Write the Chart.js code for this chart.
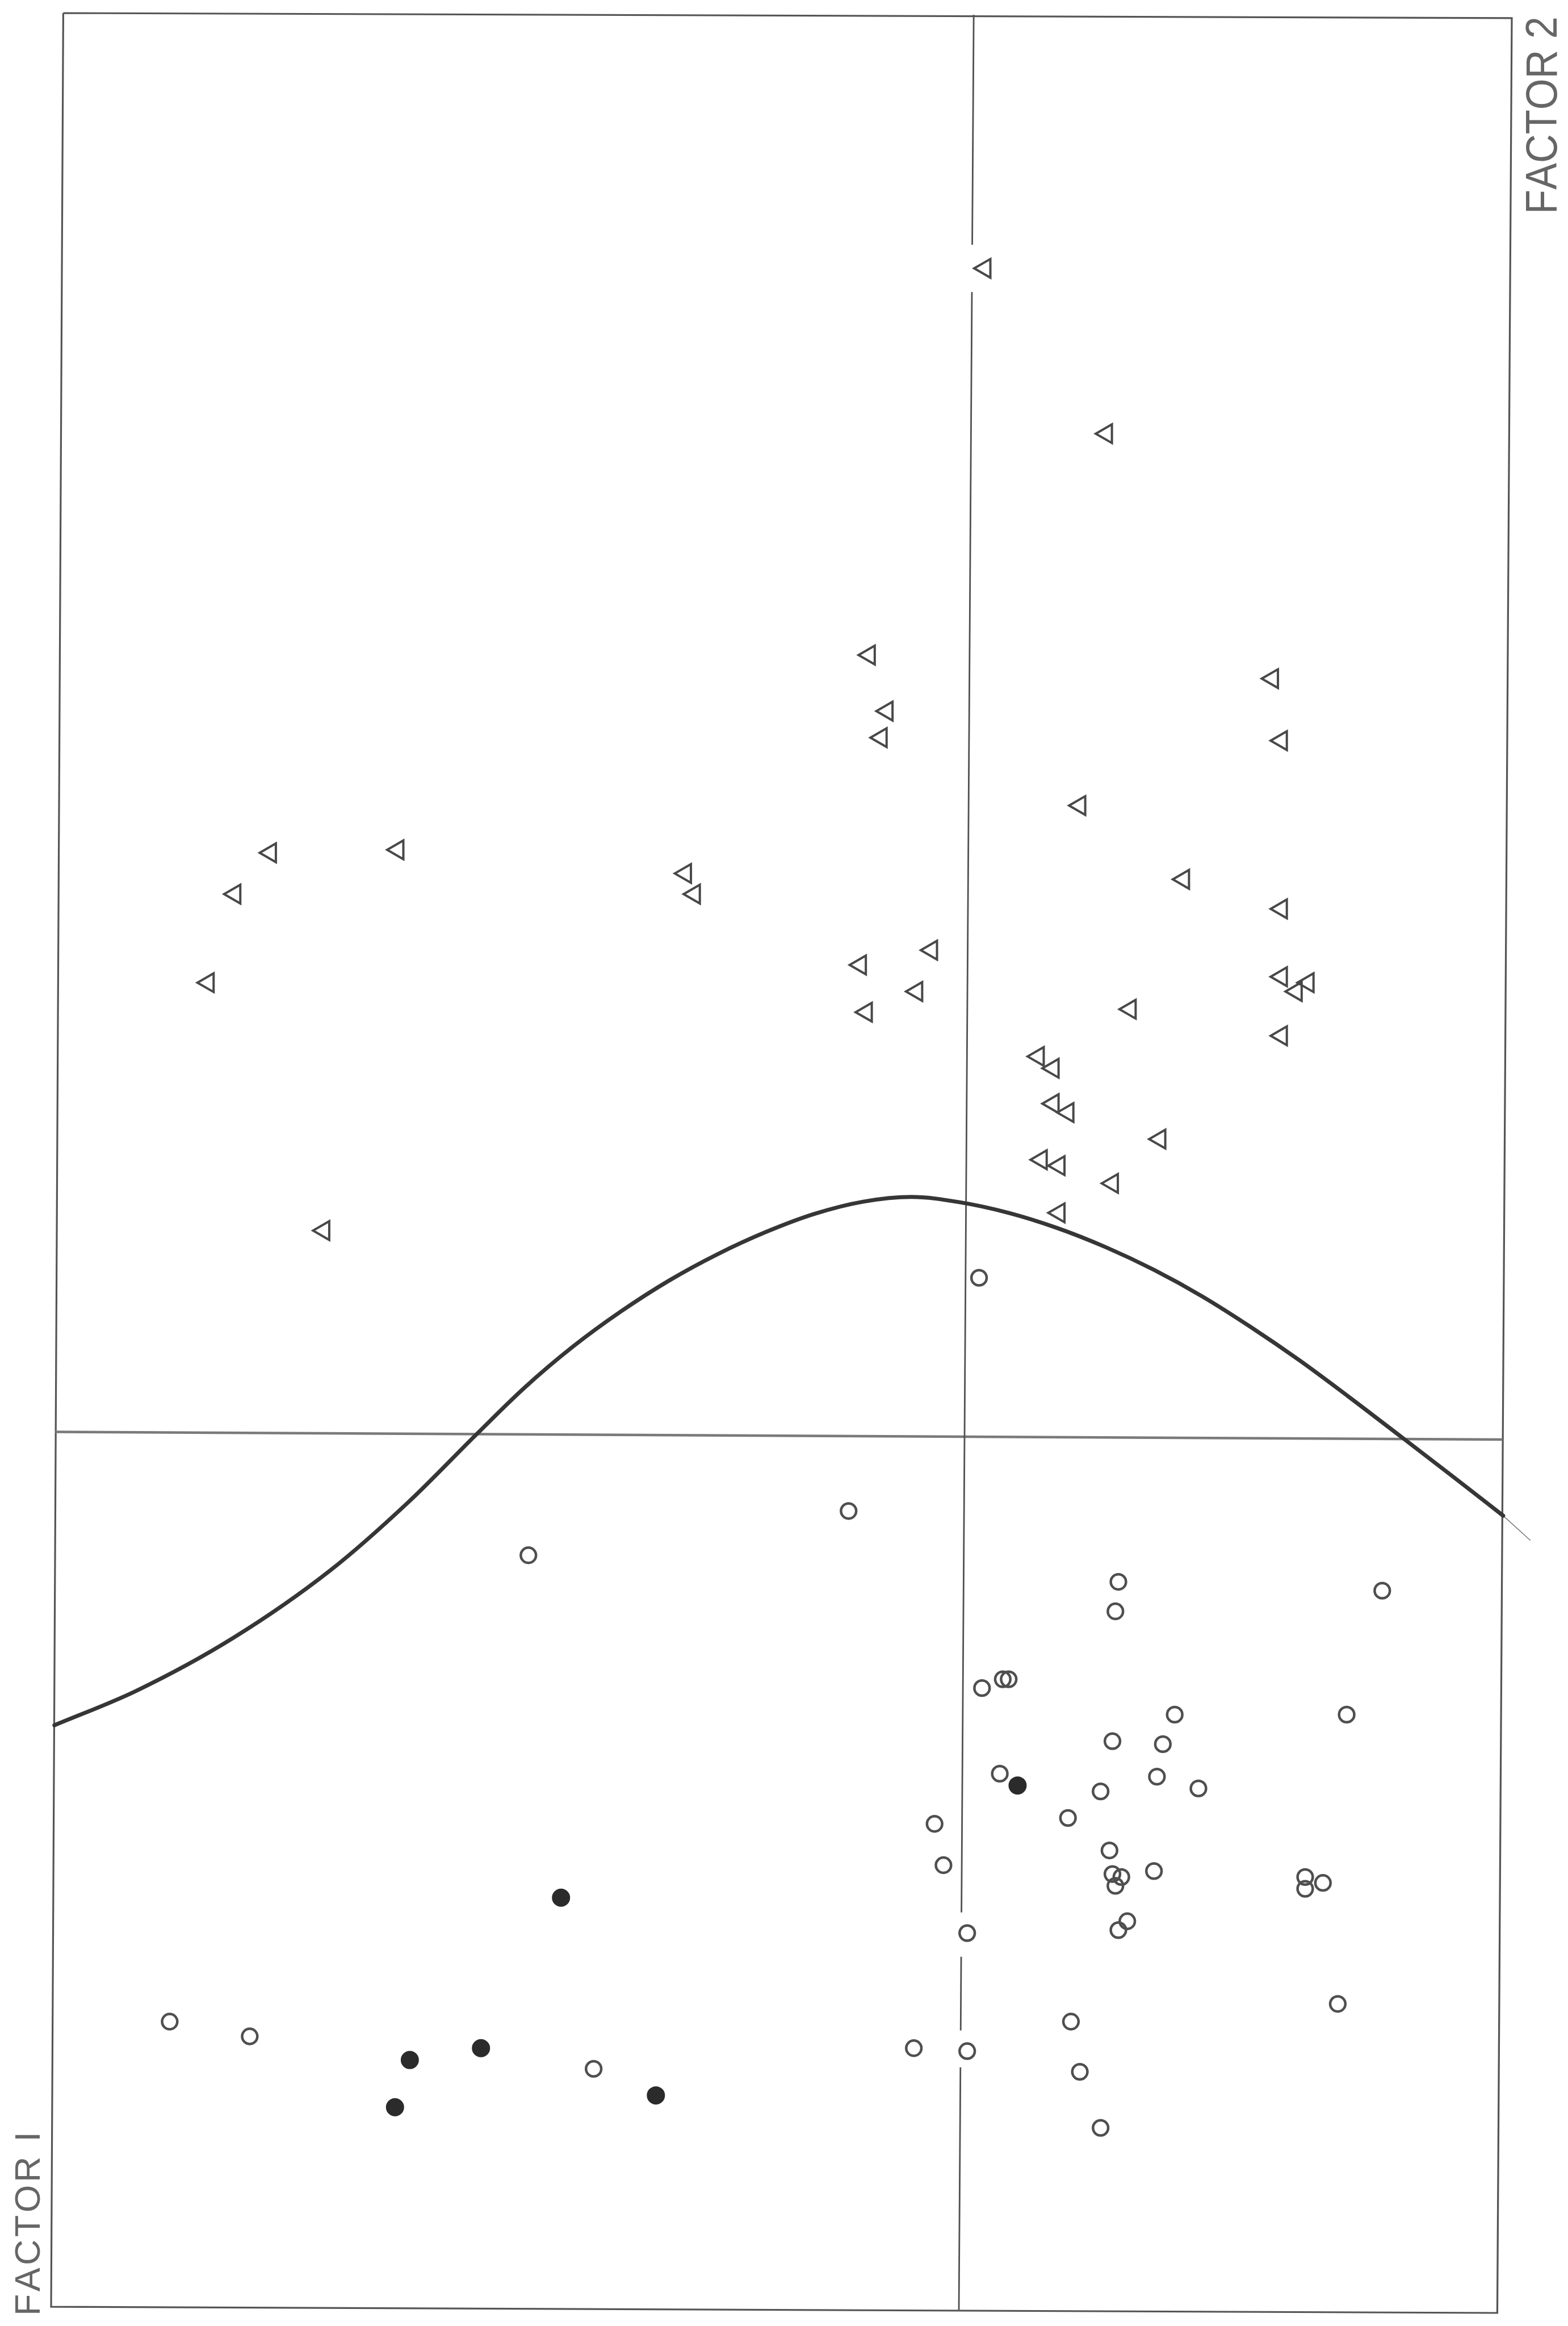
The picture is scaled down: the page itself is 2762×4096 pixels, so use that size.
<!DOCTYPE html>
<html>
<head>
<meta charset="utf-8">
<script src="https://cdn.jsdelivr.net/npm/chart.js@4.4.1/dist/chart.umd.min.js"></script>
<style>
  html, body { margin: 0; padding: 0; background: #ffffff; }
  #chart { display: block; }
</style>
</head>
<body>
<canvas id="chart" width="2762" height="4096"></canvas>
<script>
"use strict";

// scores, page orientation (x across, y up)
var triangles = [
    [0.06, 3.95], [0.47, 3.39], [-0.33, 2.64], [1.03, 2.56], [-0.27, 2.45],
    [-0.29, 2.36], [1.06, 2.35], [0.38, 2.13], [-2.35, 1.97], [-1.92, 1.98],
    [-2.47, 1.83], [-0.95, 1.90], [-0.92, 1.83], [0.73, 1.88], [1.06, 1.78],
    [-0.12, 1.64], [-0.36, 1.59], [-2.56, 1.53], [-0.17, 1.50], [-0.34, 1.43],
    [1.06, 1.55], [1.15, 1.53], [1.11, 1.50], [0.55, 1.44], [1.06, 1.35],
    [0.24, 1.28], [0.29, 1.24], [0.29, 1.12], [0.34, 1.09], [0.65, 1.00],
    [0.25, 0.93], [0.31, 0.91], [0.49, 0.85], [0.31, 0.75], [-2.17, 0.69]
];

var openCircles = [
    [0.04, 0.53], [-0.40, -0.26], [-1.48, -0.41], [0.51, -0.50], [0.50, -0.60],
    [1.40, -0.53], [0.05, -0.86], [0.12, -0.83], [0.14, -0.83], [0.70, -0.95],
    [1.28, -0.95], [0.49, -1.04], [0.66, -1.05], [0.11, -1.15], [0.64, -1.16],
    [0.78, -1.20], [0.45, -1.21], [0.34, -1.30], [-0.11, -1.32], [0.48, -1.41],
    [-0.08, -1.46], [0.49, -1.49], [0.52, -1.50], [0.63, -1.48], [0.50, -1.53],
    [1.14, -1.50], [1.14, -1.54], [1.20, -1.52], [0.54, -1.65], [0.51, -1.68],
    [0.00, -1.69], [1.25, -1.93], [0.35, -1.99], [-2.69, -1.99], [-2.42, -2.04],
    [-0.18, -2.08], [0.00, -2.09], [-1.26, -2.15], [0.38, -2.16], [0.45, -2.35]
];

var filledDots = [
    [0.17, -1.19], [-1.37, -1.57], [-1.64, -2.08], [-1.88, -2.12], [-1.93, -2.28], [-1.05, -2.24]
];

// separating curve, traced along its length
var boundary = [
    [-3.079, -0.986], [-2.802, -0.869], [-2.474, -0.689], [-2.148, -0.461], [-1.886, -0.231],
    [-1.657, -0.002], [-1.494, 0.157], [-1.331, 0.296], [-1.168, 0.416], [-1.005, 0.521],
    [-0.840, 0.611], [-0.677, 0.686], [-0.514, 0.747], [-0.351, 0.788], [-0.188, 0.804],
    [-0.025, 0.786], [0.140, 0.750], [0.303, 0.699], [0.467, 0.634], [0.630, 0.557],
    [0.793, 0.467], [0.957, 0.363], [1.120, 0.251], [1.283, 0.130], [1.463, -0.008],
    [1.638, -0.143], [1.808, -0.276]
];
var boundaryTail = [[1.808, -0.276], [1.900, -0.360]];

// the scan is slightly skewed, so the frame and axes are read as they lie
var frameCorners = [[-3.049, 4.815], [1.837, 4.798], [1.788, -2.977], [-3.090, -2.956], [-3.049, 4.815]];
var verticalAxis = [[0.022, 4.809], [-0.028, -2.967]];
var horizontalAxis = [[-3.075, 0.008], [1.806, -0.018]];
var verticalGaps = [[4.03, 3.87], [-1.62, -1.77], [-2.02, -2.145]];

var axisLabels = ["FACTOR 2", "FACTOR I"];

var toPoints = function(list) {
    return list.map(function(p) { return {x: p[0], y: p[1]}; });
};

// vertical axis line, broken where the plotter left room for a marker
var axisWithGaps = function(ends, gaps) {
    var top = ends[0], bottom = ends[1];
    var xAt = function(y) {
        return top[0] + (bottom[0] - top[0]) * (top[1] - y) / (top[1] - bottom[1]);
    };
    var out = [{x: top[0], y: top[1]}];
    gaps.forEach(function(g) {
        out.push({x: xAt(g[0]), y: g[0]});
        out.push({x: xAt(g[0]), y: null});
        out.push({x: xAt(g[1]), y: g[1]});
    });
    out.push({x: bottom[0], y: bottom[1]});
    return out;
};

var drawLabel = function(ctx, text, baseX, startY, capHeight, length) {
    var size = capHeight / 0.716;
    ctx.save();
    ctx.font = size + "px 'Liberation Sans', Arial, sans-serif";
    ctx.fillStyle = "#666666";
    ctx.textBaseline = "alphabetic";
    ctx.translate(baseX, startY);
    ctx.rotate(-Math.PI / 2);
    var chars = text.split("");
    var widths = chars.map(function(c) { return ctx.measureText(c).width; });
    var total = widths.reduce(function(a, b) { return a + b; }, 0);
    var extra = 0, squeeze = 1;
    if (length > total) {
        extra = (length - total) / (chars.length - 1);
    } else {
        squeeze = length / total;
    }
    ctx.scale(squeeze, 1);
    var pos = 0;
    chars.forEach(function(c, i) {
        ctx.fillText(c, pos, 0);
        pos += widths[i] + extra;
    });
    ctx.restore();
};

var labelPlugin = {
    id: "factorLabels",
    afterDraw: function(chart) {
        var ctx = chart.ctx;
        drawLabel(ctx, axisLabels[0], 2742, 377, 56, 348);
        drawLabel(ctx, axisLabels[1], 70, 4078, 45, 324);
    }
};

var ctx = document.getElementById("chart").getContext("2d");
var chart = new Chart(ctx, {
    type: "scatter",
    data: {
        datasets: [{
            label: "triangles",
            data: toPoints(triangles),
            pointStyle: "triangle",
            pointRotation: -90,
            pointRadius: 19,
            borderWidth: 4,
            borderColor: "#484848",
            backgroundColor: "rgba(0,0,0,0)",
            order: 1
        }, {
            label: "open",
            data: toPoints(openCircles),
            pointStyle: "circle",
            pointRadius: 13.4,
            borderWidth: 4.5,
            borderColor: "#4f4f4f",
            backgroundColor: "rgba(0,0,0,0)",
            order: 1
        }, {
            label: "filled",
            data: toPoints(filledDots),
            pointStyle: "circle",
            pointRadius: 14,
            borderWidth: 4,
            borderColor: "#2b2b2b",
            backgroundColor: "#2b2b2b",
            order: 1
        }, {
            type: "line",
            label: "boundary",
            data: toPoints(boundary),
            borderColor: "#363636",
            borderWidth: 7,
            pointRadius: 0,
            cubicInterpolationMode: "monotone",
            borderCapStyle: "round",
            borderJoinStyle: "round",
            fill: false,
            order: 2
        }, {
            type: "line",
            label: "tail",
            data: toPoints(boundaryTail),
            borderColor: "#777777",
            borderWidth: 1.5,
            pointRadius: 0,
            fill: false,
            clip: false,
            order: 2
        }, {
            type: "line",
            label: "vertical",
            data: axisWithGaps(verticalAxis, verticalGaps),
            borderColor: "#505050",
            borderWidth: 2.8,
            pointRadius: 0,
            spanGaps: false,
            fill: false,
            clip: false,
            order: 3
        }, {
            type: "line",
            label: "horizontal",
            data: toPoints(horizontalAxis),
            borderColor: "#7a7a7a",
            borderWidth: 4.5,
            pointRadius: 0,
            fill: false,
            clip: false,
            order: 3
        }, {
            type: "line",
            label: "frame",
            data: toPoints(frameCorners),
            borderColor: "#555555",
            borderWidth: 3.2,
            borderJoinStyle: "miter",
            pointRadius: 0,
            fill: false,
            clip: false,
            order: 4
        }]
    },
    options: {
        responsive: false,
        animation: false,
        events: [],
        layout: { padding: { left: 90, right: 99, top: 20, bottom: 7 } },
        plugins: {
            legend: { display: false },
            tooltip: { enabled: false }
        },
        scales: {
            x: { type: "linear", min: -3.090, max: 1.837, display: false },
            y: { type: "linear", min: -2.977, max: 4.815, display: false }
        }
    },
    plugins: [labelPlugin]
});
</script>
</body>
</html>
